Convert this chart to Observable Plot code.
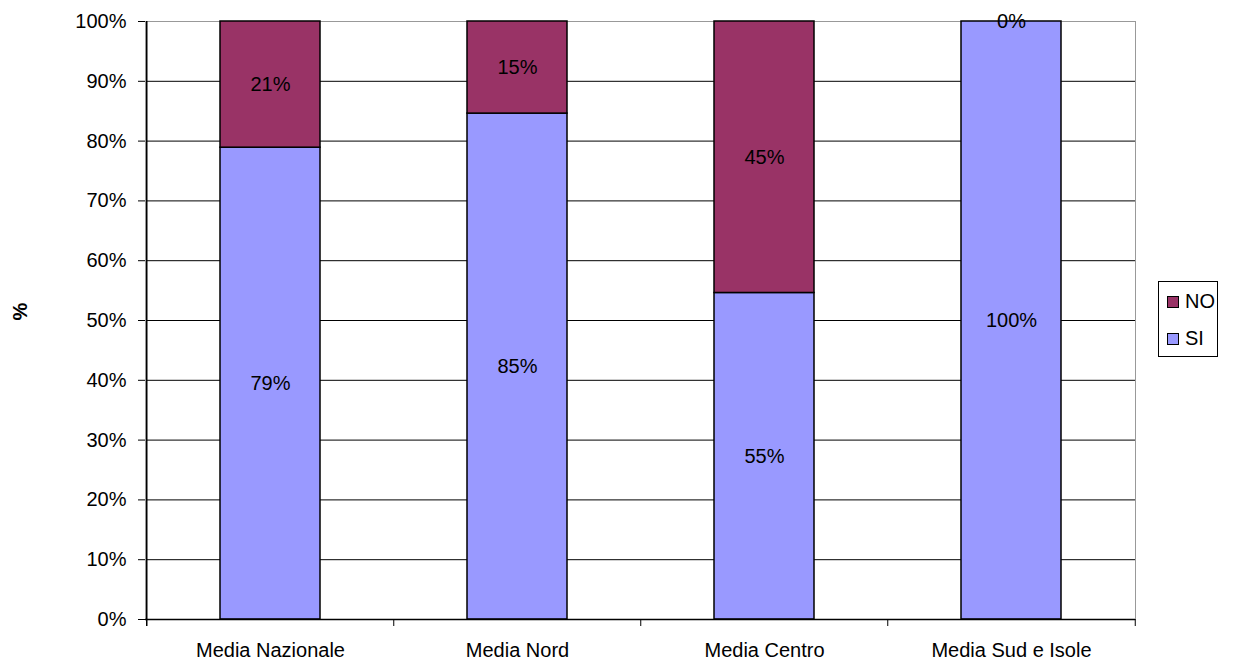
<!DOCTYPE html>
<html>
<head>
<meta charset="utf-8">
<script src="https://cdn.jsdelivr.net/npm/d3@7"></script>
<script src="https://cdn.jsdelivr.net/npm/@observablehq/plot@0.6"></script>
<style>
  html, body { margin: 0; padding: 0; background: #fff; }
  #wrap { position: relative; width: 1235px; height: 663px; font-family: "Liberation Sans", Arial, sans-serif; }
  #legend { position: absolute; left: 1158px; top: 281px; width: 58px; height: 74px; border: 1px solid #000; background: #fff; font-size: 20px; }
  #legend .item { position: absolute; left: 8px; display: flex; align-items: center; }
  #legend .sw { width: 10px; height: 10px; border: 1px solid #000; margin-right: 6px; }
</style>
</head>
<body>
<div id="wrap"></div>
<script>
const categories = ["Media Nazionale", "Media Nord", "Media Centro", "Media Sud e Isole"];
const series = ["SI", "NO"];
const siValues = [78.9, 84.6, 54.6, 100];
const noValues = [21.1, 15.4, 45.4, 0];
const colors = ["#9999FF", "#993366"];
const yTicks = [0, 10, 20, 30, 40, 50, 60, 70, 80, 90, 100];

const data = [];
categories.forEach((c, i) => {
  data.push({cat: c, series: "SI", value: siValues[i]});
  data.push({cat: c, series: "NO", value: noValues[i]});
});

const W = 1235, H = 663, mL = 145, mR = 100, mT = 21, mB = 44;
const step = (W - mL - mR) / categories.length;
const plotH = H - mT - mB;

const chart = Plot.plot({
  width: W, height: H,
  marginLeft: mL, marginRight: mR, marginTop: mT, marginBottom: mB,
  style: {fontFamily: '"Liberation Sans", Arial, sans-serif', fontSize: "20px", background: "#fff", color: "#000"},
  x: {domain: categories, paddingInner: 0.596, paddingOuter: 0.298, label: null},
  y: {domain: [0, 100], label: null},
  color: {domain: series, range: colors},
  marks: [
    Plot.gridY(yTicks, {stroke: "#000", strokeOpacity: 1}),
    Plot.frame({stroke: "#999"}),
    Plot.barY(data, Plot.stackY({x: "cat", y: "value", z: "series", fill: "series", stroke: "#000", strokeWidth: 1.5, order: series})),
    Plot.text(data, Plot.stackY({x: "cat", y: "value", z: "series", text: d => Math.round(d.value) + "%", order: series, fill: "#000", fontSize: 20})),
    Plot.ruleY([0], {stroke: "#000", strokeWidth: 1.5}),
    Plot.ruleX([categories[0]], {dx: -step / 2, stroke: "#000", strokeWidth: 1.5, insetBottom: -7}),
    Plot.ruleX(categories.slice(1), {dx: -step / 2, stroke: "#000", insetTop: plotH, insetBottom: -7}),
    Plot.ruleX([categories[categories.length - 1]], {dx: step / 2, stroke: "#000", insetTop: plotH, insetBottom: -7}),
    Plot.axisY({ticks: yTicks, tickFormat: d => d + "%", tickSize: 7, tickPadding: 12, label: null, fontSize: 20}),
    Plot.axisX({tickSize: 0, tickPadding: 23, label: null, fontSize: 20}),
    Plot.text(["%"], {frameAnchor: "left", dx: -125, rotate: -90, text: d => d, fontWeight: "bold", fontSize: 20, fill: "#000"})
  ]
});

const wrap = document.getElementById("wrap");
wrap.appendChild(chart);

const legend = document.createElement("div");
legend.id = "legend";
const legendItems = [{label: "NO", color: colors[1], top: 8}, {label: "SI", color: colors[0], top: 45}];
legendItems.forEach(it => {
  const d = document.createElement("div");
  d.className = "item";
  d.style.top = it.top + "px";
  const sw = document.createElement("span");
  sw.className = "sw";
  sw.style.background = it.color;
  const t = document.createElement("span");
  t.textContent = it.label;
  d.appendChild(sw); d.appendChild(t);
  legend.appendChild(d);
});
wrap.appendChild(legend);
</script>
</body>
</html>
